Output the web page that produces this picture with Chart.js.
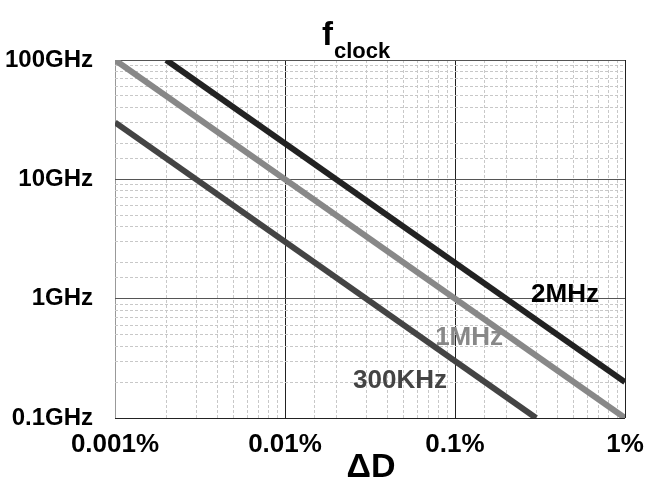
<!DOCTYPE html>
<html>
<head>
<meta charset="utf-8">
<script src="https://cdn.jsdelivr.net/npm/chart.js@4"></script>
<style>
  html, body { margin: 0; padding: 0; background: #fff; }
  #wrap { width: 646px; height: 483px; }
</style>
</head>
<body>
<div id="wrap"><canvas id="chart" width="646" height="483"></canvas></div>
<script>
  // ΔD in %, f in GHz
  const seriesNames = ['2MHz', '1MHz', '300KHz'];
  const deltaD2MHz = [0.002, 1];
  const fclock2MHz = [100, 0.2];
  const deltaD1MHz = [0.001, 1];
  const fclock1MHz = [100, 0.1];
  const deltaD300KHz = [0.001, 0.3];
  const fclock300KHz = [30, 0.1];
  const xTickLabels = ['0.001%', '0.01%', '0.1%', '1%'];
  const yTickLabels = ['0.1GHz', '1GHz', '10GHz', '100GHz'];

  const lineColors = ['#222222', '#888888', '#444444'];
  const textColors = ['#000000', '#888888', '#444444'];

  function pts(xs, ys) {
    return xs.map((x, i) => ({ x: x, y: ys[i] }));
  }
  function isDecade(v) {
    const l = Math.log10(v);
    return Math.abs(l - Math.round(l)) < 1e-6;
  }

  // where the series names sit (data coords)
  const namePos = [
    { x: 0.444, y: 1.07 },
    { x: 0.121, y: 0.468 },
    { x: 0.0475, y: 0.204 }
  ];

  const textPlugin = {
    id: 'texts',
    afterDraw(chart) {
      const ctx = chart.ctx;
      const xs = chart.scales.x, ys = chart.scales.y;
      ctx.save();
      ctx.textBaseline = 'middle';
      ctx.textAlign = 'center';
      ctx.font = 'bold 26px "Liberation Sans", Arial, sans-serif';
      seriesNames.forEach((n, i) => {
        ctx.fillStyle = textColors[i];
        ctx.fillText(n, xs.getPixelForValue(namePos[i].x), ys.getPixelForValue(namePos[i].y));
      });
      // title f_clock
      ctx.fillStyle = '#000';
      ctx.textAlign = 'left';
      ctx.textBaseline = 'alphabetic';
      ctx.font = 'bold 33px "Liberation Sans", Arial, sans-serif';
      ctx.fillText('f', 322, 45);
      ctx.font = 'bold 22px "Liberation Sans", Arial, sans-serif';
      ctx.fillText('clock', 334, 58);
      // x axis title
      ctx.textAlign = 'center';
      ctx.font = 'bold 34px "Liberation Sans", Arial, sans-serif';
      ctx.fillText('\u0394D', 371, 477);
      ctx.restore();
    }
  };

  new Chart(document.getElementById('chart'), {
    type: 'line',
    data: {
      datasets: [
        { label: seriesNames[0], data: pts(deltaD2MHz, fclock2MHz), borderColor: lineColors[0] },
        { label: seriesNames[1], data: pts(deltaD1MHz, fclock1MHz), borderColor: lineColors[1] },
        { label: seriesNames[2], data: pts(deltaD300KHz, fclock300KHz), borderColor: lineColors[2] }
      ]
    },
    options: {
      responsive: false,
      animation: false,
      layout: { padding: { top: 60, right: 21, left: 0, bottom: 0 } },
      elements: {
        line: { borderWidth: 6, borderCapStyle: 'butt', tension: 0 },
        point: { radius: 0 }
      },
      plugins: { legend: { display: false }, title: { display: false }, tooltip: { enabled: false } },
      scales: {
        x: {
          type: 'logarithmic',
          min: 0.001,
          max: 1,
          afterFit(s) { s.height = 65; s.paddingLeft = 0; s.paddingRight = 0; },
          border: {
            display: false,
            dash: (c) => (c.tick && isDecade(c.tick.value)) ? [] : [3, 2]
          },
          grid: {
            drawTicks: false,
            lineWidth: 1,
            color: (c) => {
              if (!c.tick) return '#bbb';
              if (isDecade(c.tick.value)) return c.index === 0 ? '#999' : '#222';
              return '#c8c8c8';
            }
          },
          ticks: {
            autoSkip: false,
            maxRotation: 0,
            padding: 11,
            color: '#000',
            font: { family: '"Liberation Sans", Arial, sans-serif', size: 26, weight: 'bold' },
            callback: (v) => isDecade(v) ? xTickLabels[Math.round(Math.log10(v)) + 3] : ''
          }
        },
        y: {
          type: 'logarithmic',
          min: 0.1,
          max: 100,
          afterFit(s) { s.width = 115; s.paddingTop = 0; s.paddingBottom = 0; },
          border: {
            display: false,
            dash: (c) => (c.tick && isDecade(c.tick.value)) ? [] : [3, 2]
          },
          grid: {
            drawTicks: false,
            lineWidth: 1,
            color: (c) => {
              if (!c.tick) return '#bbb';
              if (isDecade(c.tick.value)) return c.index === 0 ? '#222' : '#555';
              return '#c8c8c8';
            }
          },
          ticks: {
            autoSkip: false,
            padding: 22,
            color: '#000',
            font: { family: '"Liberation Sans", Arial, sans-serif', size: 24, weight: 'bold' },
            callback: (v) => isDecade(v) ? yTickLabels[Math.round(Math.log10(v)) + 1] : ''
          }
        }
      }
    },
    plugins: [textPlugin]
  });
</script>
</body>
</html>
